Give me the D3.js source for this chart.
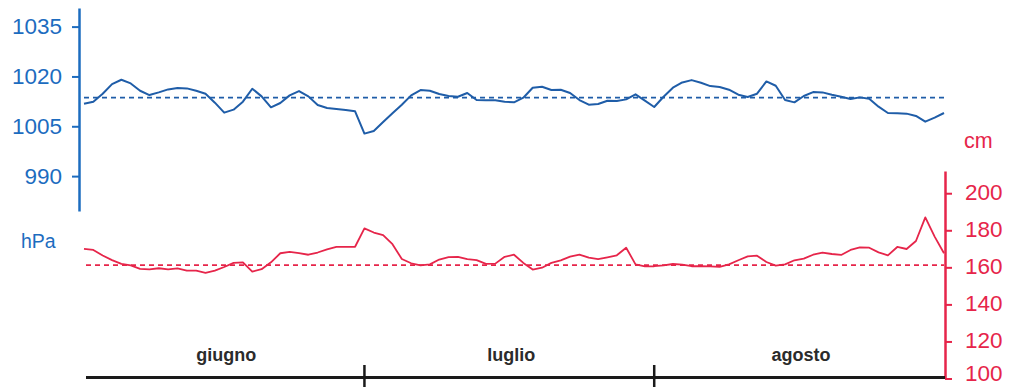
<html>

<head>

<script src="https://d3js.org/d3.v7.min.js"></script>

<style>

    body {
        margin: 0;
        background: white;
    }

    svg {
        display: block;
        font-family: "Liberation Sans", Arial, sans-serif;
    }

    .line {
        fill: none;
        stroke-linejoin: round;
    }

</style>

</head>

<body>

<svg id='the-chart' width=1016 height=387></svg>

<script>

    // daily values, 1 June -> 1 September
    var pressure = [
        1011.8, 1012.4, 1014.8, 1017.7, 1019.0, 1017.9, 1015.7, 1014.4, 1015.2, 1016.1,
        1016.5, 1016.4, 1015.7, 1014.8, 1012.1, 1009.1, 1010.0, 1012.4, 1016.3, 1014.0,
        1010.7, 1012.0, 1014.3, 1015.6, 1014.0, 1011.4, 1010.5, 1010.2, 1009.9, 1009.5,
        1002.8, 1003.6, 1006.3, 1008.9, 1011.5, 1014.3, 1015.9, 1015.7, 1014.7, 1014.1,
        1013.9, 1015.0, 1012.9, 1012.8, 1012.8, 1012.4, 1012.2, 1013.6, 1016.6, 1016.9,
        1015.9, 1016.0, 1015.0, 1012.9, 1011.5, 1011.7, 1012.7, 1012.6, 1013.1, 1014.6,
        1012.7, 1010.8, 1013.9, 1016.6, 1018.2, 1018.9, 1018.1, 1017.1, 1016.8, 1016.0,
        1014.5, 1013.8, 1014.8, 1018.5, 1017.2, 1012.9, 1012.2, 1014.1, 1015.3, 1015.2,
        1014.5, 1013.9, 1013.2, 1013.7, 1013.3, 1010.9, 1009.0, 1008.9, 1008.8, 1008.1,
        1006.4, 1007.6, 1009.0
    ];

    var level = [
        170.0, 169.4, 166.4, 163.9, 161.9, 161.1, 159.2, 158.9, 159.5, 158.9,
        159.4, 158.2, 158.2, 157.0, 158.2, 160.2, 162.4, 162.7, 157.7, 159.0,
        162.7, 167.6, 168.3, 167.7, 166.8, 168.0, 169.7, 171.1, 171.1, 171.1,
        181.0, 178.8, 177.4, 172.5, 164.5, 162.2, 161.1, 161.6, 164.2, 165.5,
        165.7, 164.4, 163.9, 161.9, 162.0, 165.7, 166.8, 162.4, 158.8, 159.8,
        162.4, 163.8, 165.8, 166.9, 165.2, 164.4, 165.4, 166.5, 170.6, 161.6,
        160.5, 160.6, 161.1, 161.8, 161.5, 160.6, 160.6, 160.5, 160.2, 161.6,
        163.8, 165.9, 166.3, 162.9, 160.9, 161.6, 163.8, 164.7, 166.8, 167.9,
        167.2, 166.7, 169.4, 170.8, 170.6, 168.1, 166.5, 171.0, 169.9, 174.2,
        187.0, 176.6, 167.6
    ];

    var pressureMean = 1013.6;
    var levelMean = 161.2;

    var pressureTicks = [990, 1005, 1020, 1035];
    var levelTicks = [100, 120, 140, 160, 180, 200];
    var months = ['giugno', 'luglio', 'agosto'];

    var blue = '#1c6cbf';
    var blueLine = '#1f5da8';
    var red = '#e6254a';

    var svg = d3.select('#the-chart');

    var start = new Date(2000, 5, 1);
    var end = new Date(2000, 8, 1);
    var days = pressure.map(function(d, i) { return d3.timeDay.offset(start, i); });
    var monthStarts = d3.timeMonth.range(start, d3.timeDay.offset(end, 1));

    var x = d3.scaleTime().domain([start, end]).range([84, 944]);
    var yP = d3.scaleLinear().domain([979.5, 1040.6]).range([211, 8]);
    var yL = d3.scaleLinear().domain([100, 212]).range([378.5, 171]);

    // left axis (hPa)
    var leftAxis = svg.append('g')
        .attr('transform', 'translate(79,0)')
        .call(d3.axisLeft(yP).tickValues(pressureTicks).tickFormat(d3.format('d'))
            .tickSize(7).tickSizeOuter(0).tickPadding(10));
    leftAxis.select('.domain').attr('stroke', blue).attr('stroke-width', 2.5);
    leftAxis.selectAll('.tick line').attr('stroke', blue).attr('stroke-width', 2);
    leftAxis.selectAll('.tick text')
        .attr('fill', blue)
        .style('font-size', '22.5px')
        .style('font-family', '"Liberation Sans", Arial, sans-serif');

    svg.append('text')
        .attr('x', 21)
        .attr('y', 248)
        .attr('fill', blue)
        .style('font-size', '19.5px')
        .text('hPa');

    // right axis (cm)
    var rightAxis = svg.append('g')
        .attr('transform', 'translate(945,0)')
        .call(d3.axisRight(yL).tickValues(levelTicks).tickSize(7).tickSizeOuter(0).tickPadding(13));
    rightAxis.select('.domain').attr('stroke', red).attr('stroke-width', 2.5);
    rightAxis.selectAll('.tick line').attr('stroke', red).attr('stroke-width', 2);
    rightAxis.selectAll('.tick text')
        .attr('fill', red)
        .attr('dy', function(d) { return d === 100 ? '0.1em' : '0.26em'; })
        .style('font-size', '22.5px')
        .style('font-family', '"Liberation Sans", Arial, sans-serif');

    svg.append('text')
        .attr('x', 964)
        .attr('y', 148)
        .attr('fill', red)
        .style('font-size', '21.5px')
        .text('cm');

    // time axis
    var bottom = svg.append('g');
    bottom.append('line')
        .attr('x1', 86)
        .attr('x2', 945)
        .attr('y1', 377.5)
        .attr('y2', 377.5)
        .attr('stroke', '#1a1a1a')
        .attr('stroke-width', 3);

    bottom.selectAll('.mtick')
        .data(monthStarts.slice(1, 3))
        .enter()
        .append('line')
        .attr('class', 'mtick')
        .attr('x1', function(d) { return x(d); })
        .attr('x2', function(d) { return x(d); })
        .attr('y1', 365)
        .attr('y2', 390)
        .attr('stroke', '#1a1a1a')
        .attr('stroke-width', 2.5);

    bottom.selectAll('.mlabel')
        .data(months)
        .enter()
        .append('text')
        .attr('class', 'mlabel')
        .attr('x', function(d, i) { return (x(monthStarts[i]) + x(monthStarts[i + 1])) / 2 + 2; })
        .attr('y', 361)
        .attr('text-anchor', 'middle')
        .attr('fill', '#2b2b2b')
        .style('font-size', '18px')
        .style('font-weight', 'bold')
        .text(function(d) { return d; });

    // mean lines
    svg.append('line')
        .attr('x1', x(days[0]))
        .attr('x2', x(days[days.length - 1]))
        .attr('y1', yP(pressureMean))
        .attr('y2', yP(pressureMean))
        .attr('stroke', blueLine)
        .attr('stroke-width', 1.8)
        .attr('stroke-dasharray', '5,4');

    svg.append('line')
        .attr('x1', x(days[0]) + 2)
        .attr('x2', x(days[days.length - 1]))
        .attr('y1', yL(levelMean))
        .attr('y2', yL(levelMean))
        .attr('stroke', red)
        .attr('stroke-width', 1.8)
        .attr('stroke-dasharray', '5,4');

    // series
    var pLine = d3.line()
        .x(function(d, i) { return x(days[i]); })
        .y(function(d) { return yP(d); });

    var lLine = d3.line()
        .x(function(d, i) { return x(days[i]); })
        .y(function(d) { return yL(d); });

    svg.append('path')
        .datum(pressure)
        .attr('class', 'line')
        .attr('stroke', blueLine)
        .attr('stroke-width', 2)
        .attr('d', pLine);

    svg.append('path')
        .datum(level)
        .attr('class', 'line')
        .attr('stroke', red)
        .attr('stroke-width', 1.8)
        .attr('d', lLine);

</script>

</body>

</html>
